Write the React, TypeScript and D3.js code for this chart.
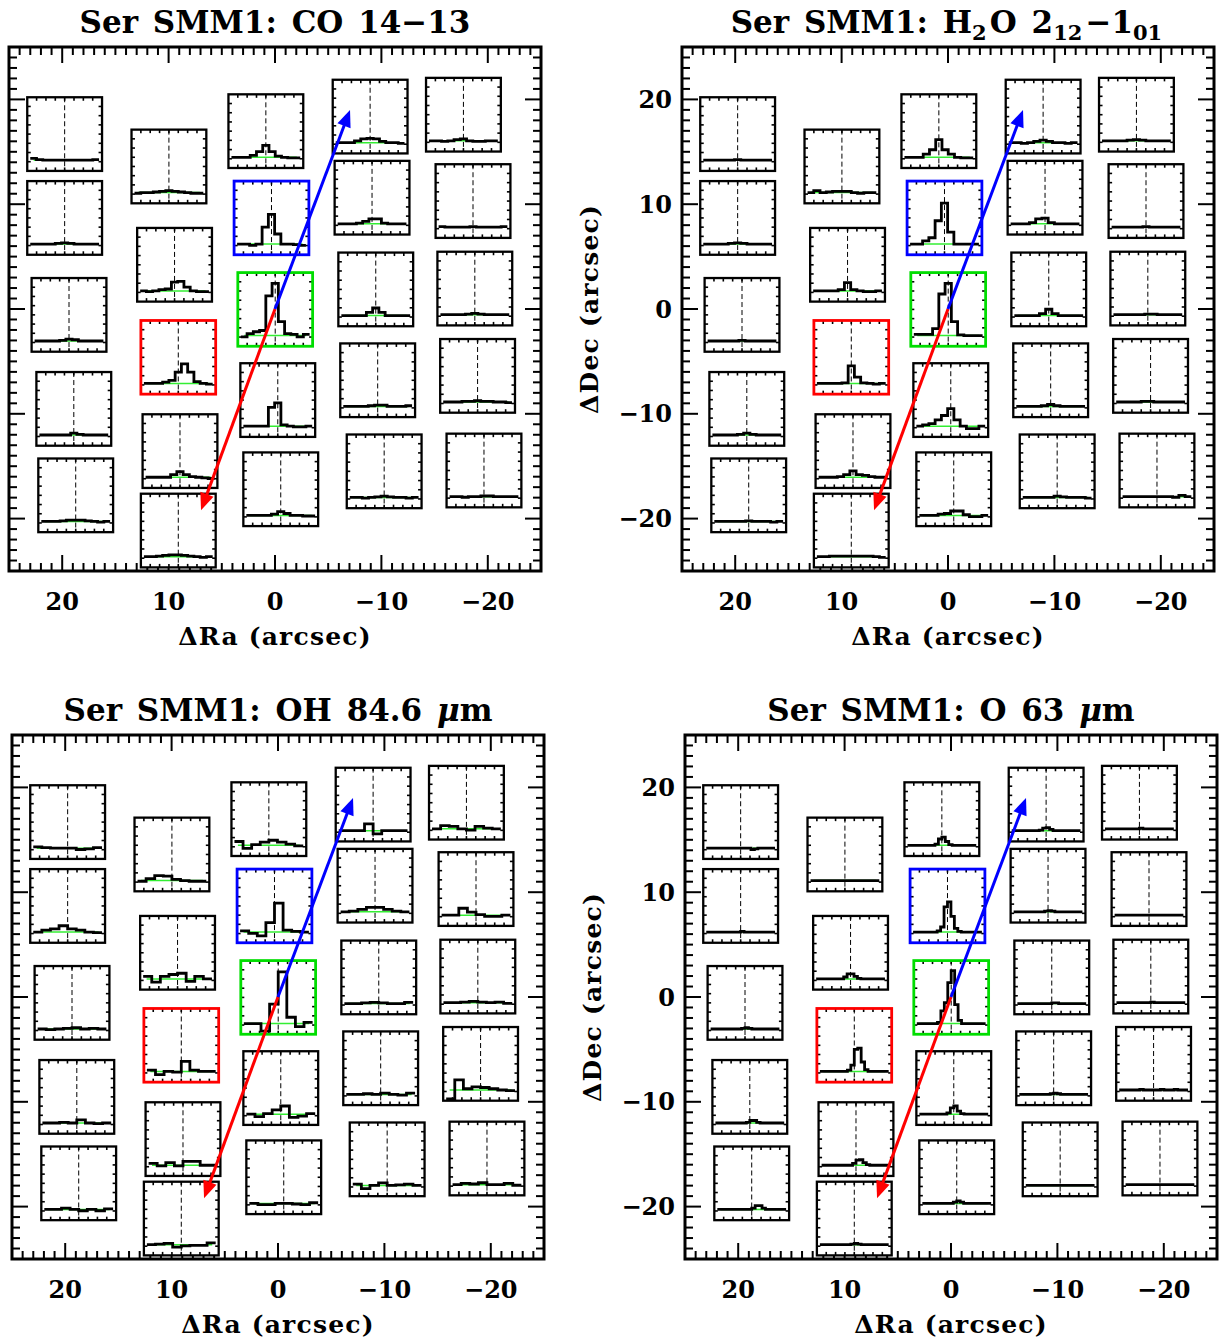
import React from "react";
import * as d3 from "d3";

// ---------- DATA ----------
// Spaxel centres (arcsec), order: column 1..5 (east->west), row 1..5 (north->south)
const spaxelRa = [
  19.77, 19.77, 19.36, 18.91, 18.73,
  9.97, 9.44, 9.09, 8.93, 9.09,
  0.86, 0.33, -0.02, -0.26, -0.54,
  -8.94, -9.12, -9.47, -9.65, -10.26,
  -17.71, -18.61, -18.78, -19.04, -19.64,
];
const spaxelDec = [
  16.69, 8.69, -0.56, -9.53, -17.78,
  13.6, 4.22, -4.61, -13.56, -21.14,
  16.97, 8.69, -0.04, -8.69, -17.2,
  18.36, 10.62, 1.87, -6.8, -15.49,
  18.54, 10.3, 1.95, -6.38, -15.41,
];
const spaxelSize = 7.03; // arcsec

const highlightIndex = [7, 11, 12];

const coSpectra = [
  [0.03, 0.01, 0, 0, 0, 0, 0, 0, 0, 0, 0.01],
  [0, 0, 0, 0, 0.01, 0.02, 0.01, 0, 0, 0, 0],
  [0, 0, 0, 0, 0.01, 0.03, 0.02, 0, 0, 0, 0],
  [0, 0, 0, 0, 0, 0.03, 0.01, 0, 0, 0, 0],
  [0, 0, 0, 0.01, 0.02, 0.02, 0.02, 0.01, 0, -0.01, 0],
  [-0.01, 0, 0, 0.01, 0.02, 0.03, 0.02, 0.01, 0, -0.01, -0.01],
  [0, -0.01, 0, 0.02, 0.03, 0.14, 0.15, 0.06, 0, -0.01, -0.01],
  [0, 0, 0, 0.02, 0.05, 0.18, 0.31, 0.18, 0.03, 0, -0.01],
  [0, 0, 0, 0, 0.04, 0.09, 0.04, 0.01, 0, -0.01, -0.02],
  [0, 0, 0.01, 0.02, 0.03, 0.03, 0.02, 0.01, 0, -0.01, 0],
  [0, 0, 0, 0.03, 0.09, 0.19, 0.09, 0.02, 0, -0.01, -0.01],
  [0, 0, -0.02, 0, 0.27, 0.47, 0.16, 0, 0, -0.01, -0.02],
  [-0.02, 0.03, 0.06, 0.08, 0.63, 0.83, 0.22, 0.03, 0.02, -0.02, 0.02],
  [0, 0, 0, 0, 0.3, 0.37, 0.02, 0, -0.01, -0.01, 0],
  [0, 0, 0, 0, 0.02, 0.06, 0.03, 0, 0, -0.01, -0.01],
  [0, 0, 0, 0.03, 0.06, 0.07, 0.06, 0.02, 0, 0, -0.01],
  [0, 0, 0, 0.01, 0.04, 0.08, 0.08, 0.01, 0, 0, 0],
  [0, 0, 0, 0, 0.05, 0.12, 0.05, 0, 0, 0, 0],
  [0, 0, 0, 0, 0.01, 0.02, 0.02, 0, 0, 0, 0.01],
  [0, 0, -0.01, 0, 0.01, 0.02, 0.01, 0, 0, -0.01, 0],
  [0, 0, -0.01, 0, 0.02, 0.03, 0, -0.01, -0.01, 0, 0],
  [0.01, 0, 0, 0, 0, 0.01, 0, 0, 0, 0, 0.01],
  [0, 0, 0, 0, 0.01, 0.02, 0.01, 0, 0, 0, 0],
  [0, 0, 0, 0.01, 0.01, 0.02, 0.01, 0.01, 0, 0, -0.01],
  [0, 0, -0.01, 0, 0, 0.01, 0.01, 0, 0, 0, 0],
];

const h2oSpectra = [
  [0, 0, 0, 0, 0, 0.01, 0, 0, 0, 0, 0],
  [0, 0, 0, 0, 0.01, 0.02, 0.01, 0, 0, 0, 0],
  [0, 0, 0, 0, 0, 0.01, 0, 0, 0, 0, 0],
  [0, 0, 0, 0, 0.01, 0.03, 0.01, 0, 0, 0, 0],
  [0, 0, 0, 0, 0, 0.01, 0, 0, 0, -0.01, 0],
  [0, 0.03, 0, 0.01, 0.02, 0.02, 0.02, 0, -0.01, 0, 0],
  [0, 0, 0, 0, 0.02, 0.13, 0.02, 0, -0.01, -0.01, 0],
  [0, 0, 0, 0, 0.01, 0.28, 0.1, 0.01, 0, -0.01, 0],
  [0, 0, 0, 0.01, 0.04, 0.1, 0.04, 0.03, 0.01, 0, 0],
  [0, 0, 0.01, 0.01, 0.01, 0.01, 0.01, 0.01, 0.01, 0, -0.01],
  [0, 0, 0, 0.05, 0.12, 0.28, 0.12, 0.05, 0, -0.01, -0.01],
  [0, 0, 0.05, 0.1, 0.37, 0.65, 0.19, 0, 0, 0, 0],
  [0.02, 0.02, 0.02, 0.11, 0.66, 0.83, 0.22, 0.01, 0, 0, 0],
  [0, 0.02, 0.04, 0.1, 0.17, 0.28, 0.1, 0, -0.04, -0.04, 0],
  [0, 0, 0, 0.02, 0.03, 0.07, 0.07, 0.01, -0.02, -0.02, 0],
  [0, 0, -0.01, 0, 0.02, 0.04, 0.02, 0, 0, -0.01, 0],
  [0, 0, 0, 0.02, 0.08, 0.09, 0.02, 0, 0, 0, 0],
  [0, 0, 0, 0, 0.03, 0.1, 0.03, 0, 0, 0, 0],
  [0, 0, 0, 0, 0.01, 0.03, 0.01, 0, 0, 0, 0],
  [0, 0, 0, 0, 0, 0.02, 0.01, 0, 0, 0, -0.01],
  [0, 0, 0, 0, 0.01, 0.02, 0.01, 0, 0, 0, 0],
  [0, 0, 0, 0, 0, 0.01, 0, 0, 0, 0, 0],
  [0, 0, 0, 0, 0, 0.01, 0.01, 0, 0, 0, 0],
  [0, 0, 0, 0, 0.01, 0.01, 0, 0, 0, 0, 0],
  [0, 0, 0, 0, 0, 0, 0, 0, -0.01, 0.02, 0],
];

const ohSpectra = [
  [0.02, 0.01, 0, 0, 0, -0.02, -0.01, 0.01],
  [0, 0.03, 0.05, 0.1, 0.05, 0.03, 0, -0.01],
  [0, -0.01, 0, 0.01, 0.02, 0, 0.01, 0],
  [0, 0, 0.01, 0, 0.05, 0, -0.01, 0],
  [0, 0, 0.02, 0, -0.02, 0, -0.02, 0.01],
  [-0.01, 0.03, 0.08, 0.07, 0.02, 0, -0.01, -0.01],
  [0.04, -0.05, 0.04, 0.07, 0.09, -0.04, 0.04, 0],
  [0.02, -0.05, 0, -0.01, 0.16, 0.02, 0, 0],
  [0.03, -0.01, 0.04, -0.01, 0.06, 0.06, 0, 0],
  [0, 0.01, 0.02, -0.04, -0.02, -0.01, -0.01, 0.03],
  [0.06, -0.05, 0.01, 0.05, 0.08, 0.05, 0.02, -0.01],
  [0.02, -0.02, -0.06, 0.15, 0.46, 0.03, 0.01, 0],
  [0, 0, -0.12, 0.31, 0.82, 0.1, -0.05, 0.02],
  [0, -0.04, 0.01, 0.07, 0.13, -0.05, -0.03, 0.01],
  [0, -0.02, -0.02, 0, 0, -0.01, -0.02, 0.01],
  [0, 0, 0, 0.11, -0.05, 0, 0, 0],
  [0, 0.01, 0.04, 0.07, 0.07, 0.04, 0.01, 0],
  [0, 0, 0.01, 0.02, 0.01, 0, 0, 0.02],
  [0, 0, 0.01, 0, 0.02, 0, -0.01, 0.02],
  [0.02, -0.05, 0, 0.04, 0, 0.01, 0.02, 0],
  [0, 0.05, 0.04, 0, -0.02, 0.04, 0.01, 0],
  [0, 0, 0.11, 0.05, 0.01, -0.02, -0.02, 0],
  [0, 0, 0.01, 0.02, 0.01, 0, 0.01, -0.01],
  [-0.14, 0.16, 0.02, 0.05, 0.04, 0.02, 0, -0.01],
  [0, 0.02, 0.01, 0.03, 0, 0, 0.02, -0.01],
];

const o63Spectra = [
  [0, 0, 0, 0, 0, 0, 0, 0, 0, 0, 0, 0, 0, -0.02, -0.01, 0, 0, 0, 0, 0],
  [0, 0, 0, 0, 0, 0, 0, 0, 0, 0, 0.01, 0, 0, 0, 0, 0, 0, 0, 0, 0],
  [0, 0, 0, 0, 0, 0, 0, 0, 0, 0.01, 0.02, 0.01, 0, 0, 0, 0, 0, 0, 0, 0],
  [0, 0, 0, 0, 0, 0, 0, 0, 0, 0.01, 0.04, 0.04, 0.01, 0, 0, 0, 0, 0, 0, 0],
  [0, 0, 0, 0, 0, 0, 0, 0, 0, 0, 0.02, 0.06, 0.06, 0.02, 0, 0, 0, 0, 0, 0],
  [0, 0, 0, 0, 0, 0, 0, 0, 0, 0, 0, 0, 0, 0, 0, 0, 0, 0, 0, 0],
  [0, 0, 0, 0, 0, 0, 0, 0, 0.03, 0.08, 0.08, 0.04, 0.01, 0, 0, 0, 0, 0, 0, 0],
  [0, 0, 0, 0, 0, 0, 0, 0, 0.02, 0.1, 0.35, 0.37, 0.15, 0.03, 0, 0, 0, 0, 0, 0],
  [0, 0, 0, 0, 0, 0, 0, 0, 0, 0.03, 0.08, 0.09, 0.04, 0.01, 0, 0, 0, 0, 0, 0],
  [0, 0, 0, 0, 0, 0, 0, 0, 0, 0.01, 0.02, 0.01, 0, 0, 0, 0, 0, 0, 0, 0],
  [0, 0, 0, 0, 0, 0, 0, 0, 0.02, 0.1, 0.13, 0.06, 0.01, 0, 0, 0, 0, 0, 0, 0],
  [0, 0, 0, 0, 0, 0, 0, 0.02, 0.08, 0.4, 0.48, 0.25, 0.06, 0.01, 0, 0, 0, 0, 0, 0],
  [0, 0, 0, 0, 0, 0, 0.02, 0.2, 0.33, 0.65, 0.84, 0.3, 0.05, 0, 0, 0, 0, 0, 0, 0],
  [0, 0, 0, 0, 0, 0, 0, 0, 0.02, 0.1, 0.13, 0.05, 0.01, 0, 0, 0, 0, 0, 0, 0],
  [0, 0, 0, 0, 0, 0, 0, 0, 0, 0.02, 0.04, 0.02, 0, 0, 0, 0, 0, 0, 0, 0],
  [0, 0, 0, 0, 0, 0, 0, 0, 0.01, 0.04, 0.05, 0.02, 0, 0, 0, 0, 0, 0, 0, 0],
  [0, 0, 0, 0, 0, 0, 0, 0, 0, 0.01, 0.02, 0.01, 0, 0, 0, 0, 0, 0, 0, 0],
  [0, 0, 0, 0, 0, 0, 0, 0, 0, 0, 0.01, 0.01, 0, 0, 0, 0, 0, 0, 0, 0],
  [0, 0, 0, 0, 0, 0, 0, 0, 0, 0.01, 0.02, 0.01, 0, 0, 0, 0, 0, 0, 0, 0],
  [0, 0, 0, 0, 0, 0, 0, 0, 0, 0, 0, 0, 0, 0, 0, 0, 0, 0, 0, 0],
  [0, 0, 0, 0, 0, 0, 0, 0, 0, 0, 0.01, 0, 0, 0, 0, 0, 0, 0, 0, 0],
  [0, 0, 0, 0, 0, 0, 0, 0, 0, 0, 0, 0, 0, 0, 0, 0, 0, 0, 0, 0],
  [0, 0, 0, 0, 0, 0, 0, 0, 0, 0, 0.01, 0, 0, 0, 0, 0, 0, 0, 0, 0],
  [0, 0, 0, 0, 0, 0, 0.01, 0, 0, 0, 0, 0, 0.01, 0, 0, 0, 0.01, 0, 0, 0],
  [0, 0, 0, 0, 0, 0, 0, 0, 0, 0, 0, 0, 0, 0, 0, 0, 0, 0, 0, 0],
];

const xTickValues = [20, 10, 0, -10, -20];
const yTickValues = [20, 10, 0, -10, -20];
const fluxDomain = [-0.17, 1.0];
const arrowStart = [0, 0];
const arrowRedEnd = [6.95, -19.2];
const arrowBlueEnd = [-7.05, 19.0];

// ---------- STYLE / LAYOUT ----------
const FONT = "'DejaVu Serif', serif";
const HL_COLORS = ["#ff0000", "#0000ff", "#00dd00"];
const GREEN = "#33ee33";

const fmt = (v: number) => (v < 0 ? "\u2212" + Math.abs(v) : String(v));

type PanelProps = {
  x0: number;
  y0: number;
  spectra: number[][];
  showY: boolean;
  title: React.ReactNode;
};

const PW = 532;
const PH = 524;

function Arrow({ x1, y1, x2, y2, color }: any) {
  const dx = x2 - x1;
  const dy = y2 - y1;
  const len = Math.sqrt(dx * dx + dy * dy);
  const ux = dx / len;
  const uy = dy / len;
  const hl = 17;
  const hw = 7;
  const bx = x2 - ux * hl;
  const by = y2 - uy * hl;
  const pts = [
    [x2, y2],
    [bx - uy * hw, by + ux * hw],
    [bx + uy * hw, by - ux * hw],
  ];
  return (
    <g>
      <line x1={x1} y1={y1} x2={bx + ux * 2} y2={by + uy * 2} stroke={color} strokeWidth={3} />
      <polygon points={pts.map((p) => p.join(",")).join(" ")} fill={color} />
    </g>
  );
}

function Panel({ x0, y0, spectra, showY, title }: PanelProps) {
  const xs = d3.scaleLinear().domain([25, -25]).range([x0, x0 + PW]);
  const ys = d3.scaleLinear().domain([-25, 25]).range([y0 + PH, y0]);
  const minor = d3.range(-25, 26, 1);

  const boxes = spaxelRa.map((ra, i) => {
    const dec = spaxelDec[i];
    const left = xs(ra + spaxelSize / 2);
    const right = xs(ra - spaxelSize / 2);
    const top = ys(dec + spaxelSize / 2);
    const bottom = ys(dec - spaxelSize / 2);
    const vals = spectra[i];
    const n = vals.length;
    const vx = d3.scaleLinear().domain([0, n]).range([left + 3, right - 3]);
    const fy = d3.scaleLinear().domain(fluxDomain).range([bottom, top]);
    const pts: [number, number][] = vals.map((v, k) => [k, v]);
    pts.push([n, vals[n - 1]]);
    const path = d3
      .line<[number, number]>()
      .x((d) => vx(d[0]))
      .y((d) => fy(d[1]))
      .curve(d3.curveStepAfter)(pts);
    const hi = highlightIndex.indexOf(i);
    const w = right - left;
    const h = bottom - top;
    const tk = d3.range(1, 8);
    return (
      <g key={i}>
        <rect x={left} y={top} width={w} height={h} fill="white" />
        {tk.map((k) => {
          const tx = left + (k * w) / 8;
          const ty = top + (k * h) / 8;
          return (
            <g key={k} stroke="black" strokeWidth={1.6}>
              <line x1={tx} x2={tx} y1={top} y2={top + 3.5} />
              <line x1={tx} x2={tx} y1={bottom} y2={bottom - 3.5} />
              <line x1={left} x2={left + 3.5} y1={ty} y2={ty} />
              <line x1={right} x2={right - 3.5} y1={ty} y2={ty} />
            </g>
          );
        })}
        <line
          x1={vx(n / 2)}
          x2={vx(n / 2)}
          y1={top}
          y2={bottom}
          stroke="black"
          strokeWidth={1}
          strokeDasharray="5,3"
        />
        <line
          x1={vx(n * 0.05)}
          x2={vx(n * 0.95)}
          y1={fy(0)}
          y2={fy(0)}
          stroke={GREEN}
          strokeWidth={1.5}
        />
        <path d={path || ""} fill="none" stroke="black" strokeWidth={2.8} strokeLinejoin="miter" />
        <rect
          x={left}
          y={top}
          width={w}
          height={h}
          fill="none"
          stroke={hi >= 0 ? HL_COLORS[hi] : "black"}
          strokeWidth={hi >= 0 ? 2.8 : 2.3}
        />
      </g>
    );
  });

  return (
    <g fontFamily={FONT} fontWeight="bold">
      <text x={x0 + PW / 2} y={y0 - 14} textAnchor="middle" fontSize={31} wordSpacing={4}>
        {title}
      </text>
      {minor.map((v) => {
        const major = v % 10 === 0;
        const L = major ? 16 : 8;
        if (v === -25 || v === 25) return null;
        return (
          <g key={v} stroke="black" strokeWidth={2}>
            <line x1={xs(v)} x2={xs(v)} y1={y0 + PH} y2={y0 + PH - L} />
            <line x1={xs(v)} x2={xs(v)} y1={y0} y2={y0 + L} />
            <line x1={x0} x2={x0 + L} y1={ys(v)} y2={ys(v)} />
            <line x1={x0 + PW} x2={x0 + PW - L} y1={ys(v)} y2={ys(v)} />
          </g>
        );
      })}
      {boxes}
      <Arrow
        x1={xs(arrowStart[0])}
        y1={ys(arrowStart[1])}
        x2={xs(arrowRedEnd[0])}
        y2={ys(arrowRedEnd[1])}
        color="#ff0000"
      />
      <Arrow
        x1={xs(arrowStart[0])}
        y1={ys(arrowStart[1])}
        x2={xs(arrowBlueEnd[0])}
        y2={ys(arrowBlueEnd[1])}
        color="#0000ff"
      />
      <rect x={x0} y={y0} width={PW} height={PH} fill="none" stroke="black" strokeWidth={3} />
      {xTickValues.map((v) => (
        <text key={v} x={xs(v)} y={y0 + PH + 39} textAnchor="middle" fontSize={24}>
          {fmt(v)}
        </text>
      ))}
      <text x={x0 + PW / 2} y={y0 + PH + 74} textAnchor="middle" fontSize={25} letterSpacing={1.2}>
        {"\u0394Ra (arcsec)"}
      </text>
      {showY &&
        yTickValues.map((v) => (
          <text key={v} x={x0 - 10} y={ys(v) + 8.5} textAnchor="end" fontSize={24}>
            {fmt(v)}
          </text>
        ))}
      {showY && (
        <text
          transform={`translate(${x0 - 84},${y0 + PH / 2}) rotate(-90)`}
          textAnchor="middle"
          fontSize={25}
          letterSpacing={1.2}
        >
          {"\u0394Dec (arcsec)"}
        </text>
      )}
    </g>
  );
}

export default function App() {
  const sub = (s: string) => (
    <>
      <tspan dy={7} fontSize={21}>
        {s}
      </tspan>
      <tspan dy={-7}>{"\u200A"}</tspan>
    </>
  );
  return (
    <svg
      width={1220}
      height={1344}
      style={{ position: "absolute", left: 0, top: 0, background: "white" }}
    >
      <rect width={1220} height={1344} fill="white" />
      <Panel x0={9} y0={47} spectra={coSpectra} showY={false} title={"Ser SMM1: CO 14\u221213"} />
      <Panel
        x0={682}
        y0={47}
        spectra={h2oSpectra}
        showY={true}
        title={
          <>
            {"Ser SMM1: H"}
            {sub("2")}
            {"O 2"}
            {sub("12")}
            {"\u22121"}
            {sub("01")}
          </>
        }
      />
      <Panel
        x0={12}
        y0={735}
        spectra={ohSpectra}
        showY={false}
        title={
          <>
            {"Ser SMM1: OH 84.6 "}
            <tspan fontStyle="italic">{"\u03bc"}</tspan>
            {"m"}
          </>
        }
      />
      <Panel
        x0={685}
        y0={735}
        spectra={o63Spectra}
        showY={true}
        title={
          <>
            {"Ser SMM1: O 63 "}
            <tspan fontStyle="italic">{"\u03bc"}</tspan>
            {"m"}
          </>
        }
      />
    </svg>
  );
}
